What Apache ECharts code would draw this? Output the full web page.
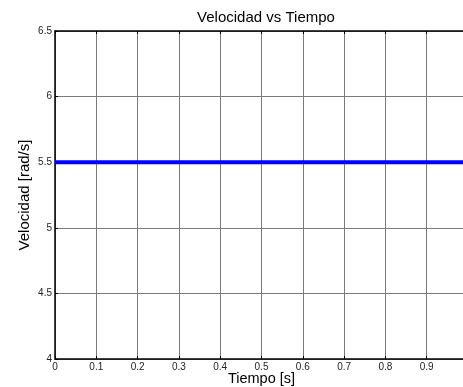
<!DOCTYPE html>
<html>
<head>
<meta charset="utf-8">
<script src="https://cdn.jsdelivr.net/npm/echarts@6/dist/echarts.min.js"></script>
<style>
  html, body { margin: 0; padding: 0; background: #fff; }
  #chart { width: 463px; height: 387px; }
</style>
</head>
<body>
<div id="chart"></div>
<script>
// datos de la grafica
var tiempo = [0, 1];
var velocidad = [5.5, 5.5];
var xTicks = [0, 0.1, 0.2, 0.3, 0.4, 0.5, 0.6, 0.7, 0.8, 0.9, 1];
var yTicks = [4, 4.5, 5, 5.5, 6, 6.5];

(function () {
  var myChart = echarts.init(document.getElementById('chart'));
  var font = 'Liberation Sans, Arial, sans-serif';
  var gridColor = '#7a7a7a';

  var option = {
    animation: false,
    title: {
      text: 'Velocidad vs Tiempo',
      left: 261,
      textAlign: 'center',
      top: 5,
      textStyle: { fontFamily: font, fontSize: 15, fontWeight: 'normal', color: '#000' }
    },
    grid: { left: 55, right: -5, top: 31, bottom: 28, outerBoundsMode: 'none', containLabel: false },
    xAxis: [
      {
        type: 'value',
        min: xTicks[0],
        max: xTicks[xTicks.length - 1],
        interval: 0.1,
        name: 'Tiempo [s]',
        nameLocation: 'middle',
        nameGap: 12,
        nameMoveOverlap: false,
        nameTextStyle: { fontFamily: font, fontSize: 14.5, color: '#000' },
        axisLine: { show: true, lineStyle: { color: '#000', width: 1.5 } },
        axisTick: { show: true, inside: true, length: 3, lineStyle: { color: '#000' } },
        axisLabel: {
          fontFamily: font, fontSize: 10, color: '#222', margin: 3,
          formatter: function (v) { return v === 1 ? '' : String(+v.toFixed(1)); }
        },
        splitLine: { show: true, lineStyle: { color: gridColor, width: 1 } }
      },
      {
        type: 'value',
        position: 'top',
        min: xTicks[0],
        max: xTicks[xTicks.length - 1],
        interval: 0.1,
        axisLine: { show: true, lineStyle: { color: '#000', width: 1.5 } },
        axisTick: { show: true, inside: true, length: 3, lineStyle: { color: '#000' } },
        axisLabel: { show: false },
        splitLine: { show: false }
      }
    ],
    yAxis: {
      type: 'value',
      min: yTicks[0],
      max: yTicks[yTicks.length - 1],
      interval: 0.5,
      name: 'Velocidad [rad/s]',
      nameLocation: 'middle',
      nameGap: 23,
      nameMoveOverlap: false,
      nameTextStyle: { fontFamily: font, fontSize: 15, color: '#000' },
      axisLine: { show: true, lineStyle: { color: '#000', width: 1.5 } },
      axisTick: { show: true, inside: true, length: 3, lineStyle: { color: '#000' } },
      axisLabel: { fontFamily: font, fontSize: 10, color: '#222', margin: 3 },
      splitLine: { show: true, lineStyle: { color: gridColor, width: 1 } }
    },
    series: [
      {
        type: 'line',
        xAxisIndex: 0,
        data: tiempo.map(function (t, i) { return [t, velocidad[i]]; }),
        showSymbol: false,
        lineStyle: { color: '#0000ff', width: 4 }
      }
    ]
  };

  myChart.setOption(option);
})();
</script>
</body>
</html>
